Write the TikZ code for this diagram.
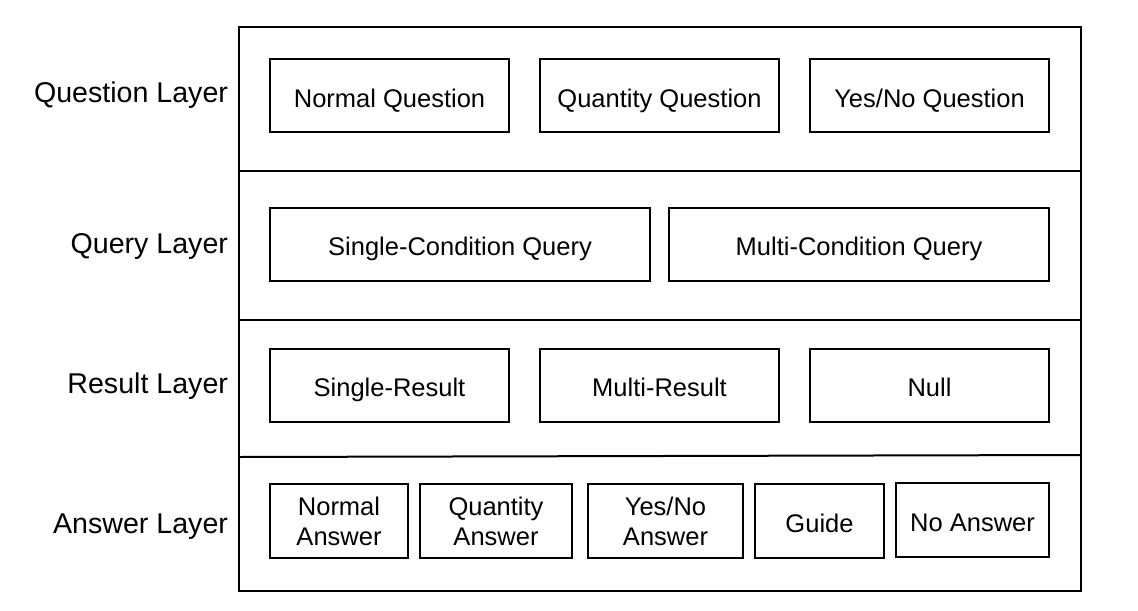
\documentclass[tikz,border=0pt]{standalone}
\usepackage{fontspec}
\setmainfont{Liberation Sans}

\begin{document}
\begin{tikzpicture}[x=0.5pt,y=-0.5pt,line width=1pt,node distance=135pt,
  item node/.style={rectangle,draw,align=center,
    font=\fontsize{12.75}{15}\selectfont,inner sep=0pt,outer sep=0pt,
    text height=11.5pt,text depth=0pt,
    minimum width=119.5pt,minimum height=36.5pt},
  two line/.style={text height={},text depth={}},
  layer node/.style={anchor=east,font=\fontsize{14.3}{17}\selectfont,
    text height=10.3pt,text depth=0pt,inner sep=0pt}]

  \useasboundingbox (0,0) rectangle (1138,610);

  \node[draw,inner sep=0pt,outer sep=0pt,minimum width=421pt,
    minimum height=282pt] (frame) at (660,309) {};
  \draw (239,170.5) -- (1081,170.5);
  \draw (239,320) -- (1081,320);
  \draw (239,457) -- (1081,455);

  \node[layer node] (QL) at (229,92.5) {Question Layer};
  \node[layer node] (YL) at (229,243) {Query Layer};
  \node[layer node] (RL) at (229,383) {Result Layer};
  \node[layer node] (AL) at (229,523) {Answer Layer};

  \node[item node] (NQ) at (389.5,95.5) {Normal Question};
  \node[item node] (QQ) [right of=NQ] {Quantity Question};
  \node[item node] (YQ) [right of=QQ] {Yes/No Question};

  \node[item node] (SCQ) [minimum width=190pt] at (460,244) {Single-Condition Query};
  \node[item node] (MCQ) [minimum width=190pt, node distance=199.5pt, right of=SCQ] {Multi-Condition Query};

  \node[item node] (SR) at (389.5,385) {Single-Result};
  \node[item node] (MR) [right of=SR] {Multi-Result};
  \node[item node] (NR) [right of=MR] {Null};

  \node[item node,two line] (NA) [minimum width=69pt, minimum height=37pt] at (339,521) {Normal\\Answer};
  \node[item node,two line] (QA) [minimum width=76pt, minimum height=37pt, node distance=78.5pt, right of=NA] {Quantity\\Answer};
  \node[item node,two line] (YA) [minimum width=77.5pt, minimum height=37pt, node distance=84.75pt, right of=QA] {Yes/No\\Answer};
  \node[item node] (GA) [minimum width=64.5pt, minimum height=37pt, node distance=77pt, right of=YA] {Guide};
  \node[item node] (XA) [minimum width=76.5pt, minimum height=37pt, node distance=76.5pt, right of=GA, yshift=0.5pt] {No Answer};
\end{tikzpicture}
\end{document}
